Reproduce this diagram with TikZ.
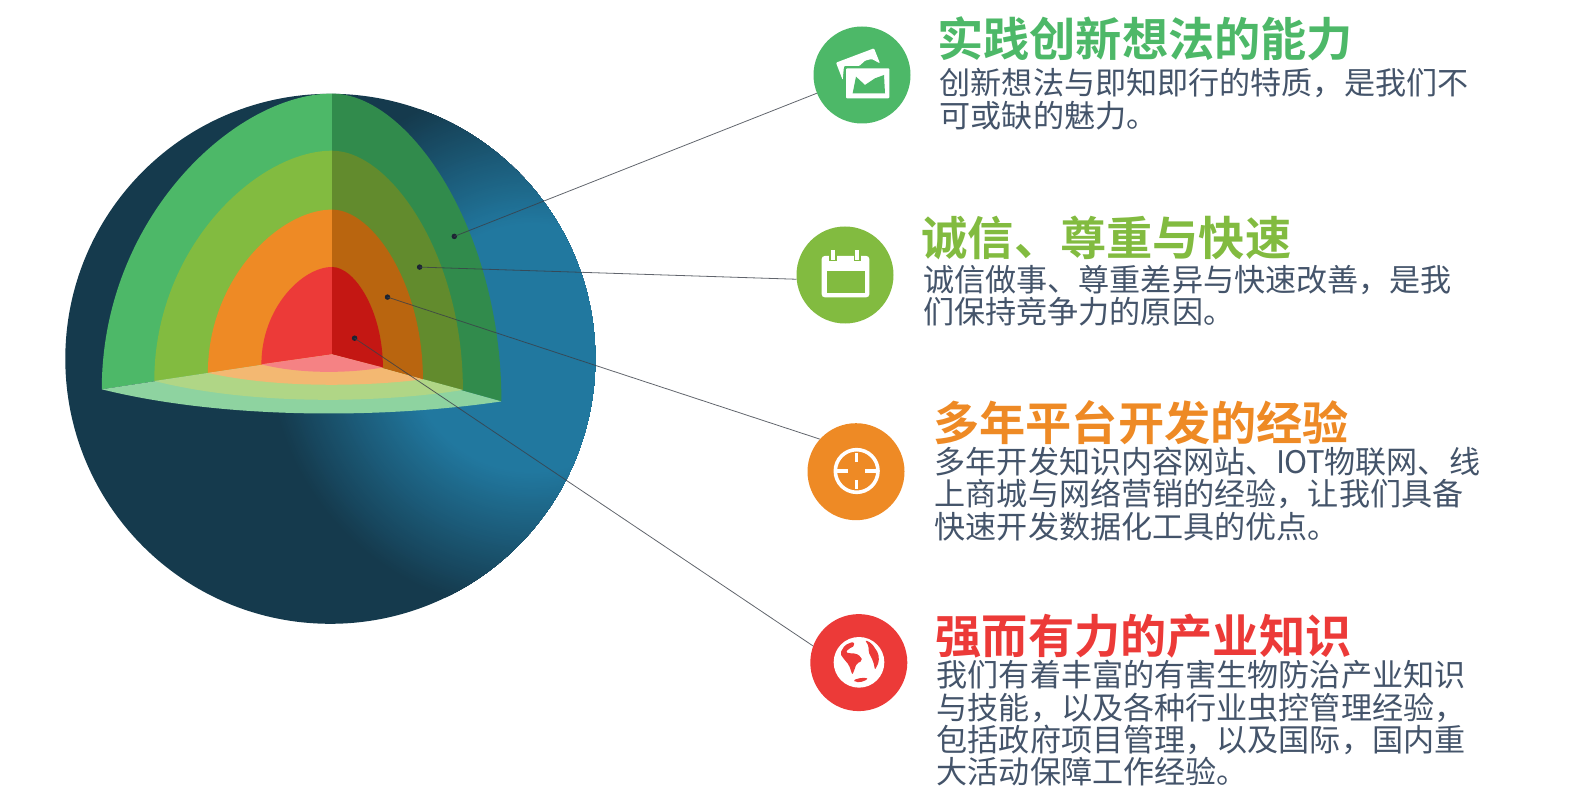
\documentclass[tikz,border=0pt]{standalone}
\usepackage{fontspec}
\setmainfont{Noto Sans CJK SC}
\newfontfamily\titlefont{Noto Sans CJK SC}[BoldFont={Noto Sans CJK SC Bold}]
\definecolor{sdark}{HTML}{153A4D}
\definecolor{sblue}{HTML}{21789F}
\definecolor{gA}{HTML}{4DB868}
\definecolor{gB}{HTML}{82BB40}
\definecolor{oC}{HTML}{EE8A25}
\definecolor{rD}{HTML}{EC3A38}
\definecolor{gAr}{HTML}{318B4C}
\definecolor{gBr}{HTML}{628B2D}
\definecolor{oCr}{HTML}{B9650F}
\definecolor{rDr}{HTML}{C41713}
\definecolor{gAf}{HTML}{8ED3A0}
\definecolor{gBf}{HTML}{B0D686}
\definecolor{oCf}{HTML}{F3B872}
\definecolor{rDf}{HTML}{F58284}
\definecolor{bodyc}{HTML}{44546A}
\definecolor{linec}{HTML}{3A3F48}
\definecolor{dotc}{HTML}{1C2433}
\tikzset{
  badge/.style={circle,minimum size=97pt,inner sep=0pt,draw=none,fill=#1},
  ttl/.style={anchor=west,inner sep=0pt,text=#1,font=\titlefont\bfseries\fontsize{46.2}{46}\selectfont},
  bodytext/.style={anchor=west,inner sep=0pt,align=left,text=bodyc,font=\fontsize{31.1}{32.3}\selectfont},
  dotm/.style={circle,minimum size=5.5pt,inner sep=0pt,fill=dotc},
  lead/.style={draw=linec,line width=0.8pt,opacity=0.8},
  icon/.style={fill=white,draw=none},
}
% #1,#2 left base; #3 floor bottom y; #4 top y; #5,#6 right base; #7,#8,#9 colours
\newcommand{\shell}[9]{%
  \fill[#7] (#1,#2) .. controls (#1,{#2-0.58*(#2-#4)}) and ({332-0.42*(332-#1)},#4) .. (332,#4) -- (332,354.3) -- cycle;
  \fill[#8] (332,#4) .. controls ({332+0.45*(#5-332)},#4) and (#5,{#6-0.56*(#6-#4)}) .. (#5,#6) -- (332,354.3) -- cycle;
  \fill[#9] (#1,#2) -- (332,354.3) -- (#5,#6) .. controls ({#5-0.30*(#5-#1)},{(8*#3-#2-#6)/6}) and ({#1+0.30*(#5-#1)},{(8*#3-#2-#6)/6}) .. (#1,#2) -- cycle;
}
\begin{document}
\begin{tikzpicture}[x=1pt,y=-1pt]
\useasboundingbox (0,0) rectangle (1587,810);
% sphere
\begin{scope}
  \clip (330.3,358.8) circle (265);
  \fill[sdark] (60,90) rectangle (600,630);
  \foreach \i in {0,...,79} {
    \pgfmathsetmacro{\rr}{264-139*\i/79}
    \pgfmathsetmacro{\pp}{100*\i/79}
    \fill[sblue!\pp!sdark] (532,348) circle (\rr);
  }
\end{scope}
% shells, outermost first
\shell{101.8}{389.3}{413.2}{93.6}{501.4}{401.4}{gA}{gAr}{gAf}
\shell{154.3}{381}{399.6}{150.7}{462.9}{390}{gB}{gBr}{gBf}
\shell{207.9}{372.9}{384.6}{209.6}{422.9}{379.3}{oC}{oCr}{oCf}
\shell{261.4}{364.3}{371.8}{267}{382.9}{367.5}{rD}{rDr}{rDf}
% badges
\node[badge=gA] (c1) at (862,75) {};
\node[badge=gB] (c2) at (845,275) {};
\node[badge=oC] (c3) at (856,471.7) {};
\node[badge=rD] (c4) at (858.8,662.6) {};
% dots
\node[dotm] (d1) at (454.3,236.4) {};
\node[dotm] (d2) at (419.6,267.1) {};
\node[dotm] (d3) at (387.5,297.1) {};
\node[dotm] (d4) at (354.6,338.2) {};
% leaders
\draw[lead] (d1.center) -- (c1.202.6);
\draw[lead] (d2.center) -- (c2.185.9);
\draw[lead] (d3.center) -- (c3.138.6);
\draw[lead] (d4.center) -- (c4.160);
% icon 1
\begin{scope}[shift={(830,40)},x=0.3333pt,y=-0.3333pt]
  \fill[icon,rounded corners=1pt] (18,68) -- (132,25) -- (150,70) -- (125,57) -- (105,62) -- (88,78) -- (42,78) -- (38,120) -- cycle;
  \fill[icon,rounded corners=1pt] (48,85) rectangle (178,175);
  \fill[gA] (68,160) -- (78,110) -- (105,135) -- (135,115) -- (162,105) -- (165,160) -- cycle;
\end{scope}
% icon 2
\begin{scope}[shift={(780,0)},x=0.3333pt,y=-0.3333pt]
  \fill[icon,rounded corners=3pt] (125,768) rectangle (268,892);
  \fill[gB] (140,812) rectangle (254,878);
  \fill[gB] (148,762) rectangle (170,784);
  \fill[gB] (221,762) rectangle (243,784);
  \fill[icon] (153,750) rectangle (165,780);
  \fill[icon] (226,750) rectangle (238,780);
\end{scope}
% icon 3
\begin{scope}[shift={(780,400)},x=0.3333pt,y=-0.3333pt]
  \draw[white,line width=3.6pt] (230,213) circle (64);
  \draw[white,line width=3.4pt] (230,160) -- (230,187);
  \draw[white,line width=3.4pt] (230,240) -- (230,268);
  \draw[white,line width=3.4pt] (172,213) -- (205,213);
  \draw[white,line width=3.4pt] (255,213) -- (288,213);
\end{scope}
% icon 4
\begin{scope}[shift={(825,625)},x=0.3333pt,y=-0.3333pt]
  \fill[icon] (102,112) circle (76);
  \fill[rD,rounded corners=2pt] (45,85) -- (60,60) -- (85,50) -- (90,62) -- (70,72) -- (62,82) -- (72,85) -- (92,85) -- (108,95) -- (112,108) -- (95,115) -- (88,135) -- (82,150) -- (72,120) -- (55,100) -- cycle;
  \fill[rD,rounded corners=2pt] (120,45) -- (140,55) -- (160,85) -- (162,110) -- (150,135) -- (145,110) -- (130,80) -- (132,65) -- cycle;
  \fill[rD,rounded corners=2pt] (85,165) -- (110,158) -- (130,160) -- (115,170) -- (92,172) -- cycle;
\end{scope}
% texts
\node[ttl=gA] (t1) at (937,38.3) {实践创新想法的能力};
\node[bodytext] (b1) at (939.5,99.2) {创新想法与即知即行的特质，是我们不\\可或缺的魅力。};
\node[ttl=gB] (t2) at (921.5,238.3) {诚信、尊重与快速};
\node[bodytext] (b2) at (923,295.5) {诚信做事、尊重差异与快速改善，是我\\们保持竞争力的原因。};
\node[ttl=oC] (t3) at (933,422.3) {多年平台开发的经验};
\node[bodytext] (b3) at (934.5,494) {多年开发知识内容网站、I\kern-1.5pt O\kern-1.5pt T物联网、线\\上商城与网络营销的经验，让我们具备\\快速开发数据化工具的优点。};
\node[ttl=rD] (t4) at (935.5,635.7) {强而有力的产业知识};
\node[bodytext] (b4) at (936.5,723.3) {我们有着丰富的有害生物防治产业知识\\与技能，以及各种行业虫控管理经验，\\包括政府项目管理，以及国际，国内重\\大活动保障工作经验。};
\end{tikzpicture}
\end{document}
